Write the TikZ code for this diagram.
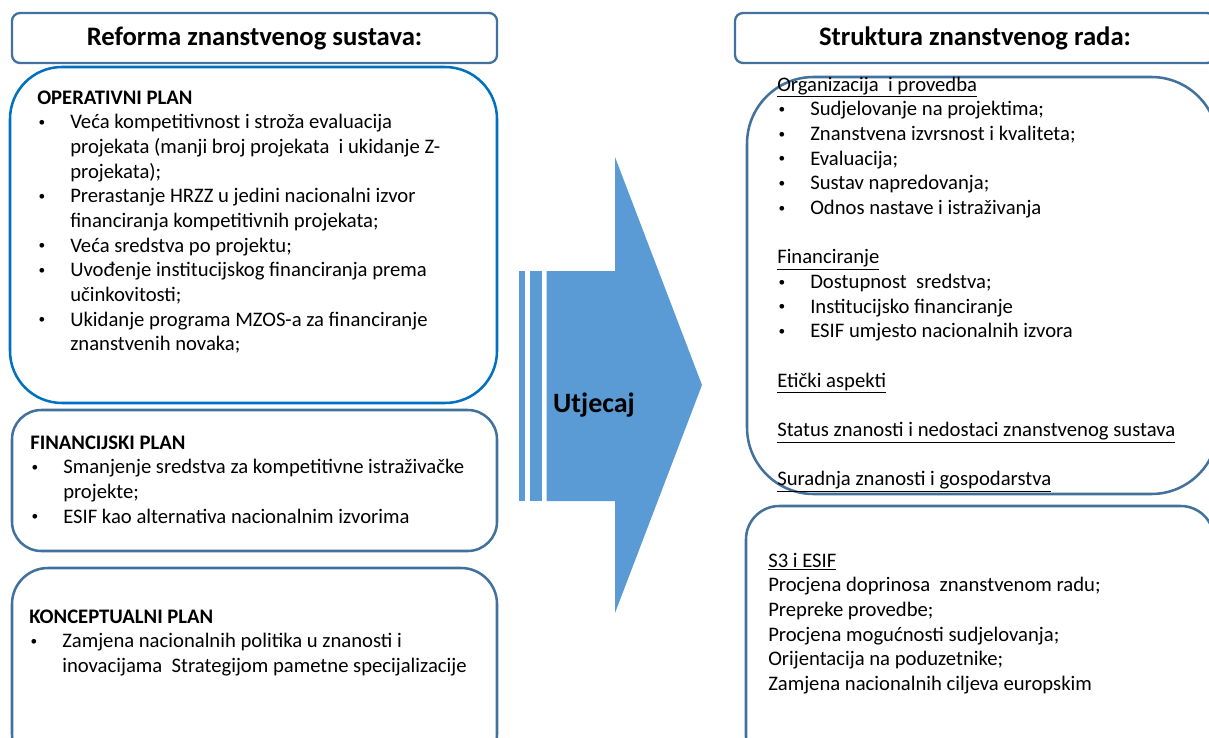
\documentclass[tikz,border=0pt]{standalone}
\usepackage{fontspec}
\setmainfont{Carlito}
\usetikzlibrary{positioning}
\definecolor{boxline}{HTML}{41719C}
\definecolor{operline}{HTML}{0070C0}
\definecolor{arrowfill}{HTML}{5B9BD5}
\newcommand{\bul}{\makebox[24.75pt][l]{\hspace{1pt}\raisebox{1.8pt}{\fontsize{10}{10}\selectfont\textbullet}}}
\newcommand{\ind}{\hspace*{24.75pt}}
\newcommand{\toprule}{\rule{0pt}{12pt}}

\begin{document}
\begin{tikzpicture}[
    x=0.75pt, y=-0.75pt,
    header/.style={draw=boxline, line width=1.7pt, rounded corners=6pt, fill=white,
        minimum height=37.5pt, font=\fontsize{20}{24}\selectfont\bfseries},
    panel/.style={draw=boxline, line width=1.9pt},
    body/.style={anchor=north west, align=left, inner sep=0pt,
        font=\fontsize{15.5}{18.5}\selectfont}
]
\useasboundingbox (0,0) rectangle (1209,738);

% headers
\node[header, minimum width=363.75pt] (reforma) at (254.5,38) {Reforma znanstvenog sustava:};
\node[header, minimum width=360pt] (struktura) at (975,38) {Struktura znanstvenog rada:};

% panels
\draw[panel, draw=operline, rounded corners=39pt] (10,67) rectangle (497,403);
\draw[panel, rounded corners=22pt] (12,410) rectangle (497,551);
\draw[panel, rounded corners=27pt] (12,568) rectangle (497,770);
\draw[panel, rounded corners=50pt] (747,77) rectangle (1218,494);
\draw[panel, rounded corners=25pt] (746,506) rectangle (1214,770);

% arrow
\fill[arrowfill] (518.5,271) rectangle (525,501);
\fill[arrowfill] (530,271) rectangle (541.5,501);
\fill[arrowfill] (546.5,271) -- (615,271) -- (615,157) -- (702,385)
    -- (615,613) -- (615,501) -- (546.5,501) -- cycle;
\node[font=\fontsize{21}{25}\selectfont\bfseries] (utjecaj) at (594,405) {Utjecaj};

% left texts
\node[body] (operativni) at (37,88) {\toprule\textbf{OPERATIVNI PLAN}\\
\bul Veća kompetitivnost i stroža evaluacija\\
\ind projekata (manji broj projekata\ \ i ukidanje Z-\\
\ind projekata);\\
\bul Prerastanje HRZZ u jedini nacionalni izvor\\
\ind financiranja kompetitivnih projekata;\\
\bul Veća sredstva po projektu;\\
\bul Uvođenje institucijskog financiranja prema\\
\ind učinkovitosti;\\
\bul Ukidanje programa MZOS-a za financiranje\\
\ind znanstvenih novaka;};

\node[body] (financijski) at (30,433) {\toprule\textbf{FINANCIJSKI PLAN}\\
\bul Smanjenje sredstva za kompetitivne istraživačke\\
\ind projekte;\\
\bul ESIF kao alternativa nacionalnim izvorima};

\node[body] (konceptualni) at (29,607) {\toprule\textbf{KONCEPTUALNI PLAN}\\
\bul Zamjena nacionalnih politika u znanosti i\\
\ind inovacijama\ \ Strategijom pametne specijalizacije};

% right texts
\node[body] (organizacija) at (777,75) {\toprule\underline{Organizacija\ \ i provedba}\\
\bul Sudjelovanje na projektima;\\
\bul Znanstvena izvrsnost i kvaliteta;\\
\bul Evaluacija;\\
\bul Sustav napredovanja;\\
\bul Odnos nastave i istraživanja\\[18.5pt]
\underline{Financiranje}\\
\bul Dostupnost\ \ sredstva;\\
\bul Institucijsko financiranje\\
\bul ESIF umjesto nacionalnih izvora\\[18.5pt]
\underline{Etički aspekti}\\[18.5pt]
\underline{Status znanosti i nedostaci znanstvenog sustava}\\[18.5pt]
\underline{Suradnja znanosti i gospodarstva}};

\node[body] (esif) at (768,551) {\toprule\underline{S3 i ESIF}\\
Procjena doprinosa\ \ znanstvenom radu;\\
Prepreke provedbe;\\
Procjena mogućnosti sudjelovanja;\\
Orijentacija na poduzetnike;\\
Zamjena nacionalnih ciljeva europskim};

\end{tikzpicture}
\end{document}
